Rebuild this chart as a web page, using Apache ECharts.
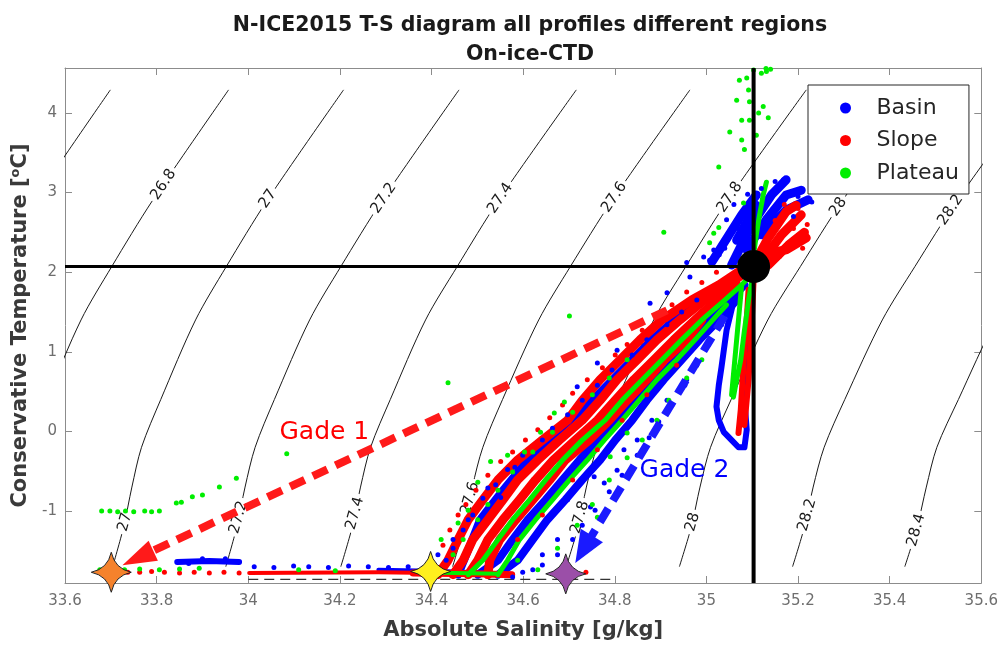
<!DOCTYPE html>
<html>
<head>
<meta charset="utf-8">
<title>N-ICE2015 T-S diagram</title>
<script src="https://cdn.jsdelivr.net/npm/echarts@6/dist/echarts.min.js"></script>
<style>
  html, body { margin: 0; padding: 0; background: #fff; }
  #chart { width: 1001px; height: 648px; }
</style>
</head>
<body>
<div id="chart"></div>
<script>
// ---------- Isopycnals (sigma0, kg/m3): salinity of each level at the listed temperatures ----------
const contourLevels = [26.6, 26.8, 27, 27.2, 27.4, 27.6, 27.8, 28, 28.2, 28.4];
const contourTemps = [-1.7, -1.2, -0.7, -0.2, 0.4, 1.4, 2.07, 2.9, 4.29];
const contourSal = [
  [33.205, 33.228, 33.245, 33.266, 33.306, 33.380, 33.446, 33.534, 33.699],
  [33.458, 33.481, 33.498, 33.520, 33.560, 33.635, 33.702, 33.791, 33.957],
  [33.704, 33.728, 33.746, 33.767, 33.809, 33.885, 33.952, 34.041, 34.208],
  [33.951, 33.975, 33.993, 34.015, 34.057, 34.134, 34.202, 34.292, 34.460],
  [34.202, 34.227, 34.245, 34.267, 34.310, 34.387, 34.456, 34.546, 34.716],
  [34.446, 34.471, 34.489, 34.512, 34.555, 34.634, 34.703, 34.794, 34.964],
  [34.694, 34.720, 34.738, 34.761, 34.805, 34.885, 34.955, 35.046, 35.218],
  [34.941, 34.967, 34.986, 35.009, 35.054, 35.134, 35.205, 35.297, 35.470],
  [35.188, 35.214, 35.233, 35.257, 35.302, 35.384, 35.455, 35.547, 35.721],
  [35.433, 35.460, 35.480, 35.503, 35.550, 35.632, 35.704, 35.796, 35.970]
];
// inline contour labels (upper and lower rows)
const upperLabelLevels = [26.8, 27, 27.2, 27.4, 27.6, 27.8, 28, 28.2];
const upperLabelPos = [[33.815, 3.10], [34.043, 2.92], [34.296, 2.93], [34.550, 2.93],
  [34.799, 2.94], [35.051, 2.94], [35.288, 2.82], [35.533, 2.78]];
const lowerLabelLevels = [27, 27.2, 27.4, 27.6, 27.8, 28, 28.2, 28.4];
const lowerLabelPos = [[33.731, -1.14], [33.979, -1.08], [34.233, -1.03], [34.484, -0.84],
  [34.724, -1.08], [34.970, -1.14], [35.220, -1.05], [35.458, -1.24]];

// ---------- Profiles: Basin ----------
const basinTracks = [
  [[34.458,-1.80],[34.480,-1.49],[34.506,-1.11],[34.556,-0.74],[34.610,-0.36],[34.679,0.02],[34.751,0.39],[34.816,0.77],[34.881,1.15],[34.957,1.53],[35.033,1.84]],
  [[34.501,-1.80],[34.545,-1.62],[34.577,-1.36],[34.610,-1.11],[34.649,-0.86],[34.686,-0.61],[34.723,-0.36],[34.762,-0.11],[34.801,0.14],[34.838,0.39],[34.875,0.65],[34.918,0.90],[34.962,1.15],[35.005,1.40],[35.051,1.65],[35.083,1.84]],
  [[34.545,-1.80],[34.588,-1.62],[34.621,-1.36],[34.653,-1.11],[34.692,-0.86],[34.729,-0.61],[34.768,-0.36],[34.801,-0.11],[34.838,0.14],[34.870,0.39],[34.907,0.65],[34.946,0.90],[34.985,1.15],[35.027,1.40],[35.066,1.65]],
  [[35.066,1.81],[35.055,1.53],[35.044,1.27],[35.038,1.02],[35.033,0.81],[35.027,0.58],[35.022,0.31],[35.027,0.14],[35.038,-0.01],[35.055,-0.11],[35.070,-0.20],[35.083,-0.20],[35.088,0.02],[35.083,0.39],[35.088,0.90],[35.092,1.40],[35.094,1.78]],
  [[33.845,-1.64],[33.915,-1.63],[33.980,-1.64]],
  [[34.284,-1.74],[34.400,-1.75],[34.501,-1.77]],
  [[35.012,2.13],[35.077,2.72],[35.109,2.97]],
  [[35.055,2.09],[35.098,2.59],[35.142,2.97],[35.174,3.16]],
  [[35.088,2.28],[35.131,2.66],[35.174,2.97],[35.207,3.03]],
  [[35.120,2.47],[35.174,2.78],[35.222,2.91]],
  [[35.066,2.40],[35.109,2.84]]
];
const basinDots = [
  [34.523,-0.71],[34.551,-0.83],[34.582,-0.45],[34.718,0.56],[34.762,0.86],[34.805,1.02],
  [34.877,1.61],[34.914,1.74],[34.957,2.12],[34.964,1.94],[34.994,2.19],[35.016,2.28],[35.038,2.40],
  [35.007,2.15],[35.044,2.66],[34.777,-0.65],[34.747,-0.95],[34.675,-1.36],[34.642,-1.55],[34.621,-1.74],
  [34.577,-1.83],[34.805,-0.49],[34.849,-0.11],[34.881,0.14],[34.914,0.39],[34.957,0.65],[34.480,-1.11],
  [34.447,-1.36],[34.414,-1.55],[34.892,0.52],[34.820,-0.23],[34.755,-0.57],[34.697,-0.86],
  [34.432,-1.62],[34.447,-1.47],[34.469,-1.24],[34.490,-1.05],[34.512,-0.84],[34.540,-0.67],[34.566,-0.48],
  [34.599,-0.30],[34.642,-0.11],[34.664,0.04],[34.697,0.21],[34.729,0.39],[34.762,0.58],[34.794,0.77],
  [34.838,0.96],[34.870,1.15],[34.914,1.34],[34.946,1.50],[34.979,1.65],
  [34.675,-1.55],[34.708,-1.36],[34.729,-1.18],[34.757,-0.99],[34.788,-0.76],[34.816,-0.55],[34.849,-0.30],
  [34.875,-0.08],[34.896,0.12],[34.925,0.33],[34.953,0.58],[34.979,0.83],[35.005,1.09],[35.033,1.34],
  [34.599,-1.77],[34.642,-1.68],
  [34.013,-1.70],[34.056,-1.71],[34.099,-1.69],[34.132,-1.70],[34.175,-1.71],[34.219,-1.69],
  [34.262,-1.70],[34.306,-1.71],[34.349,-1.70],[34.382,-1.72],[33.870,-1.66],[33.950,-1.60],[33.900,-1.60],
  [35.120,3.05],[35.150,3.14],[35.168,3.16],[35.200,2.95],[35.230,2.88],[35.190,2.70],[35.070,2.55],
  [35.060,2.85],[35.090,2.98],[35.040,2.30],[35.028,2.22]
];

// ---------- Profiles: Slope ----------
const slopeTracks = [
  [[34.414,-1.80],[34.436,-1.62],[34.458,-1.36],[34.480,-1.11],[34.512,-0.86],[34.545,-0.61],[34.588,-0.36],[34.642,-0.11],[34.697,0.14],[34.729,0.39],[34.768,0.65],[34.812,0.90],[34.855,1.15],[34.903,1.40],[34.968,1.65],[35.027,1.84],[35.077,2.03]],
  [[34.447,-1.80],[34.469,-1.62],[34.490,-1.36],[34.523,-1.11],[34.556,-0.86],[34.588,-0.61],[34.632,-0.36],[34.679,-0.11],[34.729,0.14],[34.768,0.39],[34.805,0.65],[34.849,0.90],[34.892,1.15],[34.942,1.40],[34.996,1.65],[35.048,1.84],[35.092,2.03]],
  [[34.480,-1.80],[34.501,-1.62],[34.523,-1.36],[34.556,-1.11],[34.592,-0.86],[34.627,-0.61],[34.666,-0.36],[34.714,-0.11],[34.762,0.14],[34.801,0.39],[34.842,0.65],[34.886,0.90],[34.929,1.15],[34.975,1.40],[35.022,1.65],[35.066,1.84]],
  [[34.523,-1.80],[34.527,-1.62],[34.549,-1.36],[34.584,-1.11],[34.621,-0.86],[34.658,-0.61],[34.692,-0.36],[34.744,-0.11],[34.788,0.14],[34.827,0.39],[34.870,0.65],[34.909,0.90],[34.957,1.15],[34.990,1.40]],
  [[34.002,-1.78],[34.284,-1.77],[34.400,-1.78],[34.577,-1.79]],
  [[34.360,-1.78],[34.500,-1.79],[34.575,-1.80]],
  [[35.092,1.78],[35.088,1.40],[35.083,1.02],[35.079,0.65],[35.075,0.27],[35.070,-0.02]],
  [[35.103,1.90],[35.098,1.27],[35.092,0.65],[35.083,0.08]],
  [[35.103,2.09],[35.135,2.43],[35.174,2.76],[35.196,2.84]],
  [[35.120,2.13],[35.164,2.47],[35.207,2.72]],
  [[35.135,2.09],[35.179,2.34],[35.214,2.50]],
  [[35.109,2.22],[35.174,2.28],[35.218,2.43]]
];
const slopeDots = [
  [34.425,-1.43],[34.440,-1.24],[34.458,-1.05],[34.475,-0.92],[34.497,-0.74],[34.523,-0.55],[34.551,-0.38],
  [34.577,-0.26],[34.605,-0.11],[34.632,0.02],[34.658,0.17],[34.686,0.33],[34.708,0.48],[34.740,0.65],
  [34.773,0.80],[34.801,0.96],[34.827,1.09],[34.860,1.27],[34.892,1.46],[34.925,1.59],[34.957,1.75],
  [34.990,1.87],[35.022,2.00],
  [34.588,-1.36],[34.642,-1.05],[34.708,-0.61],[34.762,-0.23],[34.816,0.14],[34.870,0.46],[34.935,0.83],
  [34.737,-1.77],
  [33.737,-1.77],[33.763,-1.77],[33.789,-1.76],[33.817,-1.77],[33.850,-1.78],[33.882,-1.77],[33.915,-1.78],
  [33.947,-1.77],[33.980,-1.78],
  [35.200,2.80],[35.170,2.85],[35.220,2.60],[35.210,2.30],[35.160,2.20],[35.190,2.55],[35.150,2.65]
];

// ---------- Profiles: Plateau ----------
const plateauTracks = [
  [[34.480,-1.80],[34.512,-1.62],[34.545,-1.36],[34.577,-1.11],[34.614,-0.86],[34.649,-0.61],[34.686,-0.36],[34.729,-0.11],[34.779,0.14],[34.816,0.39],[34.860,0.65],[34.903,0.90],[34.946,1.15],[34.990,1.40],[35.040,1.65],[35.077,1.84],[35.103,2.00]],
  [[34.545,-1.80],[34.566,-1.62],[34.592,-1.36],[34.627,-1.11],[34.664,-0.86],[34.701,-0.61],[34.740,-0.36],[34.777,-0.11],[34.816,0.14],[34.853,0.39],[34.892,0.65],[34.935,0.90],[34.975,1.15],[35.014,1.40],[35.044,1.59]],
  [[35.103,2.00],[35.092,1.65],[35.083,1.27],[35.075,0.90],[35.066,0.65],[35.059,0.43]],
  [[35.077,1.84],[35.070,1.40],[35.062,0.90],[35.055,0.46]],
  [[34.371,-1.77],[34.450,-1.78],[34.545,-1.79]],
  [[35.103,2.22],[35.109,2.47],[35.116,2.72],[35.124,2.97],[35.131,3.13]]
];
const plateauDots = [
  [33.680,-1.00],[33.698,-1.00],[33.715,-1.01],[33.732,-1.00],[33.750,-1.01],[33.774,-1.00],[33.789,-1.01],
  [33.806,-1.00],[33.843,-0.90],[33.854,-0.89],[33.878,-0.82],[33.900,-0.80],[33.937,-0.70],[33.974,-0.59],
  [34.084,-0.28],
  [33.676,-1.74],[33.702,-1.73],[33.730,-1.74],[33.763,-1.73],[33.806,-1.74],[33.850,-1.73],[33.893,-1.72],
  [34.110,-1.74],[34.190,-1.75],
  [35.072,4.41],[35.088,4.44],[35.092,4.29],[35.094,4.14],[35.120,4.50],[35.131,4.52],[35.124,4.08],
  [35.114,4.00],[35.135,3.94],[35.051,3.76],[35.027,3.32],[35.094,3.91],[35.077,3.66],[35.083,3.54],
  [35.109,3.72],[35.103,4.54],[35.066,4.16],[35.077,3.91],[35.130,4.56],[35.140,4.55],
  [34.436,0.61],[34.701,1.45],[34.907,2.50],[34.529,-0.38],[34.566,-0.30],[34.603,-0.26],[34.638,-0.01],
  [34.668,0.23],[34.690,0.37],[34.501,-0.64],[34.480,-0.99],[34.458,-1.15],[34.421,-1.36],[34.734,-1.45],
  [34.790,-0.32],[34.827,-0.02],[34.762,-1.08],[34.588,-1.62],
  [34.632,-1.74],[34.675,-1.47],[34.718,-1.18],[34.751,-0.92],[34.788,-0.61],[34.827,-0.33],[34.860,-0.11],
  [34.892,0.14],[34.918,0.39],[34.957,0.67],[34.990,0.90],
  [34.447,-1.55],[34.469,-1.36],[34.501,-1.11],[34.523,-0.92],[34.545,-0.74],[34.577,-0.51],[34.621,-0.26],
  [34.664,-0.01],[34.708,0.24],[34.751,0.46],[34.788,0.67],[34.827,0.90],
  [35.016,2.49],[35.007,2.37],[35.027,2.56],[35.081,2.87]
];

// ---------- Reference water mass, end members and mixing lines ----------
const refSalinity = 35.103;
const refTemperature = 2.07;
const endMembers = [[33.701, -1.77], [34.398, -1.76], [34.693, -1.79]];
const freezingSegment = [[34.0, -1.86], [34.8, -1.86]];
const gade1 = [[34.914, 1.52], [33.759, -1.59]];
const gade2 = [[35.040, 1.45], [34.733, -1.47]];
const gadeNames = ['Gade 1', 'Gade 2'];
const gadeLabelPos = [[34.067, -0.01], [34.853, -0.49]];

// ---------- Axes ----------
const xMin = 33.6, xMax = 35.6, xStep = 0.2;
const yMin = -1.905, yMax = 4.565;
const yTicks = [-1, 0, 1, 2, 3, 4];

// ---------- Styles ----------
const FONT = 'DejaVu Sans';
const COLORS = { Basin: '#0000ff', Slope: '#ff0000', Plateau: '#00ee00' };
const TRACK_WIDTHS = {
  Basin: [8, 8, 8, 6, 6, 4, 9, 9, 9, 9, 9],
  Slope: [9, 9, 9, 9, 4, 7, 6, 6, 9, 9, 9, 9],
  Plateau: [5, 5, 5, 5, 4, 5]
};
const GADE_COLORS = ['#ff0000', '#0000ff'];
const AXIS_COLOR = '#8c8c8c';
const LABEL_COLOR = '#6e6e6e';

const series = [];

// isopycnal lines
contourLevels.forEach((lev, i) => {
  series.push({
    type: 'line', silent: true, z: 1,
    data: contourTemps.map((t, j) => [contourSal[i][j], t]),
    smooth: 0.3, symbol: 'none',
    lineStyle: { color: '#1a1a1a', width: 1 }
  });
});
function contourLabelSeries(levels, pos, angle) {
  return {
    type: 'scatter', silent: true, z: 1,
    symbolSize: 1, itemStyle: { color: 'rgba(0,0,0,0)', opacity: 1 },
    data: pos.map((p, i) => ({ name: String(levels[i]), value: p })),
    label: {
      show: true, position: 'inside', formatter: '{b}', rotate: angle,
      fontFamily: FONT, fontSize: 15, color: '#1a1a1a',
      backgroundColor: '#fff', padding: [1, 3]
    }
  };
}
series.push(contourLabelSeries(upperLabelLevels, upperLabelPos, 56));
series.push(contourLabelSeries(lowerLabelLevels, lowerLabelPos, 74));

// dashed freezing segment
series.push({
  type: 'line', silent: true, z: 2, data: freezingSegment, symbol: 'none',
  lineStyle: { color: '#333', width: 1.3, type: [10, 6] }
});

// profile data, per region
function addRegion(name, tracks, dots) {
  const color = COLORS[name];
  tracks.forEach((tr, k) => {
    series.push({
      name, type: 'line', silent: true, z: 2, data: tr, symbol: 'none',
      itemStyle: { color },
      lineStyle: { color, width: TRACK_WIDTHS[name][k], cap: 'round', join: 'round' }
    });
  });
  series.push({
    name, type: 'scatter', silent: true, z: 2, data: dots,
    symbolSize: 5, itemStyle: { color, opacity: 1 }
  });
}
addRegion('Basin', basinTracks, basinDots);
addRegion('Slope', slopeTracks, slopeDots);
addRegion('Plateau', plateauTracks, plateauDots);

// reference temperature / salinity lines
series.push({
  type: 'line', silent: true, z: 3, symbol: 'none',
  data: [[xMin, refTemperature], [refSalinity, refTemperature]],
  lineStyle: { color: '#000', width: 3 }
});
series.push({
  type: 'line', silent: true, z: 3, symbol: 'none',
  data: [[refSalinity, yMin], [refSalinity, yMax]],
  lineStyle: { color: '#000', width: 4 }
});

// Gade mixing lines with arrow heads
const headRed = 'path://M-17,0 M0,0 L11,34 L-11,34 Z M17,34';
const headBlue = 'path://M-17,0 M0,0 L13,32 L-13,32 Z M17,34';
const arrowColors = ['#ff1a1a', '#1a1aff'];
[[gade1, headRed], [gade2, headBlue]].forEach(([coords, head], i) => {
  series.push({
    type: 'lines', coordinateSystem: 'cartesian2d', silent: true, z: 4,
    color: arrowColors[i],
    symbol: ['none', head], symbolSize: 34,
    lineStyle: { color: arrowColors[i], width: 8, type: [16, 9], opacity: 1, curveness: 0 },
    data: [{ coords }]
  });
});
series.push({
  type: 'scatter', silent: true, z: 5, symbolSize: 1,
  itemStyle: { color: 'rgba(0,0,0,0)', opacity: 1 },
  data: gadeLabelPos.map((p, i) => ({
    name: gadeNames[i], value: p,
    label: { color: GADE_COLORS[i] }
  })),
  label: {
    show: true, position: 'right', distance: 0, formatter: '{b}',
    fontFamily: FONT, fontSize: 25
  }
});

// reference water mass
series.push({
  type: 'scatter', silent: true, z: 5, symbolSize: 33,
  itemStyle: { color: '#000', opacity: 1 },
  data: [[refSalinity, refTemperature]]
});

// end members (four-pointed stars)
const starPath = 'path://M0,-20 Q3.5,-3.5 20,0 Q3.5,3.5 0,20 Q-3.5,3.5 -20,0 Q-3.5,-3.5 0,-20 Z';
const starColors = ['#f5822c', '#fff01e', '#9b4fa8'];
series.push({
  type: 'scatter', silent: true, z: 6, symbol: starPath, symbolSize: 40,
  data: endMembers.map((p, i) => ({
    value: p,
    itemStyle: { color: starColors[i], borderColor: '#222', borderWidth: 1, opacity: 1 }
  }))
});

const axisLineStyle = { show: true, onZero: false, lineStyle: { color: AXIS_COLOR, width: 1 } };
const tickStyle = { show: true, inside: true, length: 7, lineStyle: { color: AXIS_COLOR } };

const option = {
  animation: false,
  backgroundColor: '#fff',
  title: {
    text: 'N-ICE2015 T-S diagram all profiles different regions\nOn-ice-CTD',
    left: 525, top: 6, textAlign: 'center',
    textStyle: { fontFamily: FONT, fontSize: 20.5, fontWeight: 'bold', color: '#1a1a1a', lineHeight: 29 }
  },
  legend: {
    data: ['Basin', 'Slope', 'Plateau'],
    orient: 'vertical', left: 808, top: 85, z: 20,
    icon: 'circle', itemWidth: 52, itemHeight: 11, itemGap: 8.5,
    padding: [11, 10, 9, 32],
    backgroundColor: '#fff', borderColor: '#262626', borderWidth: 1, borderRadius: 0,
    selectedMode: false,
    textStyle: { fontFamily: FONT, fontSize: 22, color: '#262626', lineHeight: 24 }
  },
  grid: { left: 65, right: 15, top: 68, bottom: 65 },
  xAxis: [
    {
      type: 'value', min: xMin, max: xMax, interval: xStep, position: 'bottom',
      axisLine: axisLineStyle, axisTick: tickStyle, splitLine: { show: false },
      axisLabel: {
        fontFamily: FONT, fontSize: 15, color: LABEL_COLOR, margin: 11,
        formatter: (v) => String(Number(v.toFixed(1)))
      },
      name: 'Absolute Salinity [g/kg]', nameLocation: 'middle', nameGap: 37,
      nameTextStyle: { fontFamily: FONT, fontSize: 21, fontWeight: 'bold', color: '#3a3a3a' }
    },
    {
      type: 'value', min: xMin, max: xMax, interval: xStep, position: 'top',
      axisLine: axisLineStyle, axisTick: tickStyle, splitLine: { show: false },
      axisLabel: { show: false }
    }
  ],
  yAxis: [
    {
      type: 'value', min: yMin, max: yMax, position: 'left',
      axisLine: axisLineStyle,
      axisTick: Object.assign({}, tickStyle, { customValues: yTicks }),
      splitLine: { show: false },
      axisLabel: {
        fontFamily: FONT, fontSize: 15, color: LABEL_COLOR, margin: 8,
        customValues: yTicks, formatter: (v) => String(v)
      },
      name: 'Conservative Temperature [{sup|o}C]', nameLocation: 'middle', nameGap: 30, nameRotate: 90,
      nameTextStyle: {
        fontFamily: FONT, fontSize: 21, fontWeight: 'bold', color: '#3a3a3a',
        rich: { sup: { fontFamily: FONT, fontSize: 13, fontWeight: 'bold', color: '#3a3a3a', padding: [0, 0, 10, 0] } }
      }
    },
    {
      type: 'value', min: yMin, max: yMax, position: 'right',
      axisLine: axisLineStyle,
      axisTick: Object.assign({}, tickStyle, { customValues: yTicks }),
      splitLine: { show: false },
      axisLabel: { show: false, customValues: yTicks }
    }
  ],
  series
};

const chart = echarts.init(document.getElementById('chart'), null, { renderer: 'canvas' });
chart.setOption(option);
</script>
</body>
</html>
